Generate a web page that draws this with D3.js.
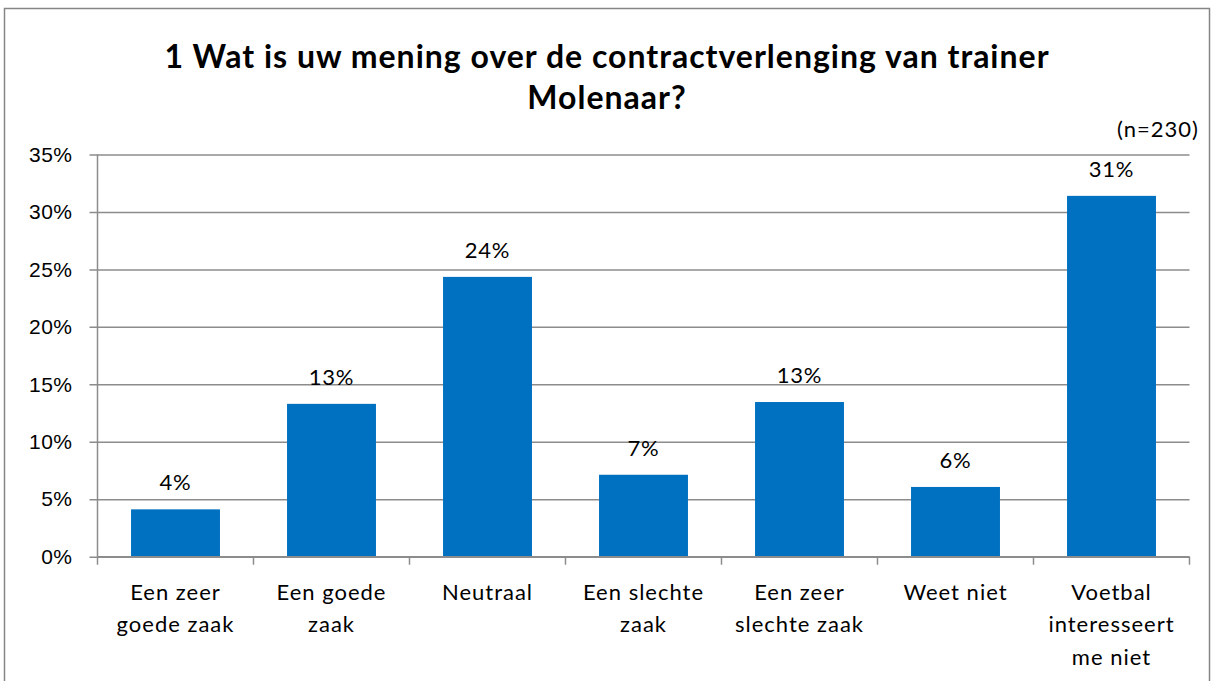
<!DOCTYPE html>
<html lang="nl">
<head>
<meta charset="utf-8">
<title>Contractverlenging trainer Molenaar</title>
<script src="https://cdn.jsdelivr.net/npm/d3@7"></script>
<style>
  body { margin: 0; background: #fff; font-family: Lato, "Open Sans", sans-serif; }
  .grid line { stroke: #8c8c8c; stroke-width: 1.5px; }
  .grid path { display: none; }
  .ytick text { font-size: 21px; fill: #000; letter-spacing: 0.5px; }
  .cat text { font-size: 22px; fill: #000; letter-spacing: 1px; }
  .value { font-size: 22px; fill: #000; letter-spacing: 0.7px; }
</style>
</head>
<body>
<div id="chart"></div>
<script>
// gegevens
var categories = [
  ["Een zeer", "goede zaak"],
  ["Een goede", "zaak"],
  ["Neutraal"],
  ["Een slechte", "zaak"],
  ["Een zeer", "slechte zaak"],
  ["Weet niet"],
  ["Voetbal", "interesseert", "me niet"]
];
var values = [4.12, 13.3, 24.35, 7.13, 13.46, 6.07, 31.4];
var yTicks = [0, 5, 10, 15, 20, 25, 30, 35];
var titleLines = ["1 Wat is uw mening over de contractverlenging van trainer", "Molenaar?"];
var note = "(n=230)";

var W = 1214, H = 681,
    mLeft = 97.5, mRight = 1189.5, mTop = 154.5, mBottom = 556.7,
    w = mRight - mLeft, h = mBottom - mTop;

var svg = d3.select("#chart").append("svg")
    .attr("width", W)
    .attr("height", H);

// kader om de grafiek
svg.append("rect")
    .attr("x", 4.5).attr("y", 8.5)
    .attr("width", 1205).attr("height", 700)
    .attr("fill", "none").attr("stroke", "#868686").attr("stroke-width", 1.5);

// titel
svg.append("text")
    .attr("x", 607).attr("y", 68)
    .attr("text-anchor", "middle")
    .style("font-size", "32px").style("font-weight", "bold").style("letter-spacing", "1px")
    .selectAll("tspan").data(titleLines).enter().append("tspan")
    .attr("x", 607)
    .attr("dy", function(d, i) { return i ? 41 : 0; })
    .text(function(d) { return d; });

svg.append("text")
    .attr("x", 1199).attr("y", 137)
    .attr("text-anchor", "end")
    .style("font-size", "22px").style("letter-spacing", "1px")
    .text(note);

var g = svg.append("g").attr("transform", "translate(" + mLeft + "," + mTop + ")");

var x = d3.scaleBand()
    .domain(d3.range(categories.length))
    .range([0, w])
    .paddingInner(0.43)
    .paddingOuter(0.215);

var y = d3.scaleLinear().domain([0, 35]).range([h, 0]);

// rasterlijnen + y-as labels
var yAxis = g.append("g").attr("class", "grid ytick")
    .call(d3.axisLeft(y).tickValues(yTicks).tickSize(-w).tickPadding(25)
        .tickFormat(function(d) { return d + "%"; }));
yAxis.selectAll("line").attr("x1", -8);

// y-as lijn
g.append("line")
    .attr("x1", 0).attr("x2", 0).attr("y1", 0).attr("y2", h)
    .attr("stroke", "#8c8c8c").attr("stroke-width", 1.5);

// balken
g.selectAll("rect.bar").data(values).enter().append("rect")
    .attr("class", "bar")
    .attr("x", function(d, i) { return x(i); })
    .attr("width", x.bandwidth())
    .attr("y", function(d) { return y(d); })
    .attr("height", function(d) { return h - y(d); })
    .attr("fill", "#0070c0");

// x-as met scheidingsstreepjes
g.append("line")
    .attr("x1", 0).attr("x2", w).attr("y1", h).attr("y2", h)
    .attr("stroke", "#8c8c8c").attr("stroke-width", 1.5);
var step = x.step();
g.selectAll("line.sep").data(d3.range(categories.length + 1)).enter().append("line")
    .attr("class", "sep")
    .attr("x1", function(d) { return d * step; })
    .attr("x2", function(d) { return d * step; })
    .attr("y1", h).attr("y2", h + 8)
    .attr("stroke", "#8c8c8c").attr("stroke-width", 1.5);

// waardelabels
g.selectAll("text.value").data(values).enter().append("text")
    .attr("class", "value")
    .attr("x", function(d, i) { return x(i) + x.bandwidth() / 2; })
    .attr("y", function(d) { return y(d) - 19; })
    .attr("text-anchor", "middle")
    .text(function(d) { return Math.round(d) + "%"; });

// categorielabels
var cat = g.append("g").attr("class", "cat");
cat.selectAll("text").data(categories).enter().append("text")
    .attr("text-anchor", "middle")
    .attr("y", h + 43)
    .each(function(lines, i) {
        var cx = x(i) + x.bandwidth() / 2;
        d3.select(this).selectAll("tspan").data(lines).enter().append("tspan")
            .attr("x", cx)
            .attr("dy", function(d, j) { return j ? 32.5 : 0; })
            .text(function(d) { return d; });
    });
</script>
</body>
</html>
